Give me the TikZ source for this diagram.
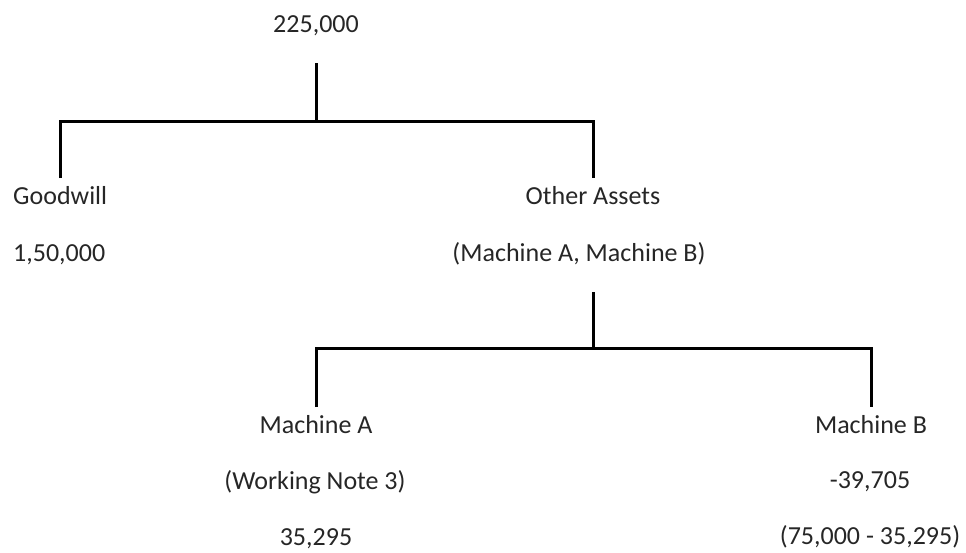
\documentclass[tikz,border=0pt]{standalone}
\usepackage{fontspec}
\setmainfont{Carlito}
\definecolor{txt}{HTML}{262626}
\begin{document}
\begin{tikzpicture}[x=1pt,y=-1pt,
  lbl/.style={anchor=base,inner sep=0pt,text=txt,font=\fontsize{26}{30}\selectfont},
  lblw/.style={lbl,anchor=base west},
  conn/.style={draw=black,line width=3pt,line join=miter}]
\useasboundingbox (0,0) rectangle (966,552);
% texts
\node[lbl]  (root) at (316,32)  {225,000};
\node[lblw] (gw)   at (13,204)  {Goodwill};
\node[lblw] (gwv)  at (13,261)  {1,50,000};
\node[lbl]  (oa)   at (593,204) {Other Assets};
\node[lbl]  (oam)  at (579,261) {(Machine A, Machine B)};
\node[lbl]  (ma)   at (316,433) {Machine A};
\node[lbl]  (man)  at (315,489) {(Working Note 3)};
\node[lbl]  (mav)  at (316,545) {35,295};
\node[lbl]  (mb)   at (871,433) {Machine B};
\node[lbl]  (mbv)  at (870,488) {-39,705};
\node[lbl]  (mbn)  at (870,544) {(75,000 - 35,295)};
% connector points
\coordinate (r1) at (316,63);
\coordinate (j1) at (316,121);
\coordinate (g1) at (60,178);
\coordinate (o1) at (593,178);
\coordinate (o2) at (593,292);
\coordinate (j2) at (593,348);
\coordinate (a1) at (316,407);
\coordinate (b1) at (871,407);
% connectors
\draw[conn] (r1) -- (j1);
\draw[conn] (g1) |- (j1) -| (o1);
\draw[conn] (o2) -- (j2);
\draw[conn] (a1) |- (j2) -| (b1);
\end{tikzpicture}
\end{document}
